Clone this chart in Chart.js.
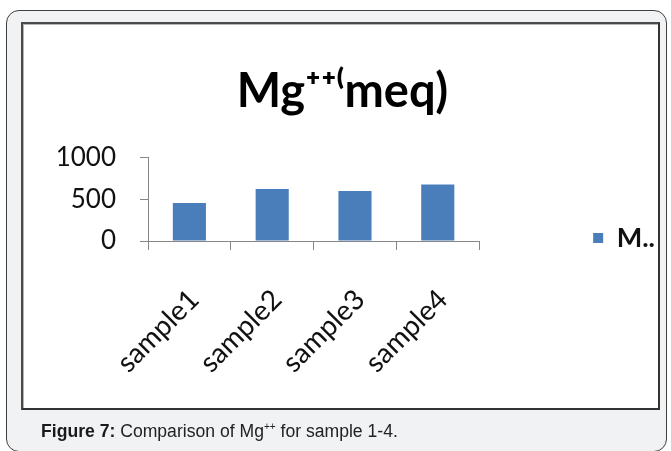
<html>
<head>
    <meta charset="utf-8">
    <style>
        body {
            margin: 0;
            background: #ffffff;
            width: 671px;
            height: 451px;
            overflow: hidden;
            position: relative;
        }

        .outer-frame {
            position: absolute;
            left: 6px;
            top: 10px;
            width: 661px;
            height: 442px;
            box-sizing: border-box;
            border: 1px solid #3f3f3f;
            border-radius: 13px;
            background: #f1f2f4;
        }

        .chart-box {
            position: absolute;
            left: 21px;
            top: 22px;
            width: 639px;
            height: 388px;
            box-sizing: border-box;
            background: #ffffff;
            border: 2px solid #4a4a4a;
            border-right-color: #333333;
            border-bottom-color: #333333;
            box-shadow: inset 1px 1px 0 #b5b5b5;
        }

        #mg-chart {
            position: absolute;
            left: 0;
            top: 0;
        }

        .caption {
            position: absolute;
            left: 41px;
            top: 421px;
            font-family: "Liberation Sans", Arial, sans-serif;
            font-size: 17.6px;
            line-height: 20px;
            color: #222222;
            white-space: nowrap;
        }

        .caption b {
            color: #1a1a1a;
        }

        .caption sup {
            font-size: 10px;
            vertical-align: 7px;
            line-height: 0;
        }
    </style>
</head>
<body>
    <div class="outer-frame"></div>
    <div class="chart-box"></div>
    <canvas id="mg-chart" width="671" height="451"></canvas>
    <div class="caption"><b>Figure 7:</b> Comparison of Mg<sup>++</sup> for sample 1-4.</div>

    <script src="https://cdn.jsdelivr.net/npm/chart.js"></script>
    <script type="text/javascript">
        // values
        const categories = ['sample1', 'sample2', 'sample3', 'sample4'];
        const mgValues = [456, 623, 599, 675];
        const yTicks = [0, 500, 1000];
        const seriesName = 'M..';
        const chartTitle = 'Mg\u207A\u207A\u207Dmeq)';

        const axisColor = '#868686';
        const textColor = '#111111';

        class MgChartPage {
            constructor() {
                this.initChart();
            }

            initChart() {
                this.chart = new Chart(document.getElementById('mg-chart'), {
                    type: 'bar',
                    data: {
                        labels: categories,
                        datasets: [{
                            label: seriesName,
                            data: mgValues,
                            backgroundColor: '#4a7ebb',
                            borderWidth: 0,
                            barPercentage: 0.5,
                            categoryPercentage: 0.8
                        }]
                    },
                    options: {
                        responsive: false,
                        animation: false,
                        devicePixelRatio: 1,
                        layout: {
                            // top/bottom chosen so the legend sits level with the axis
                            padding: { left: 20, top: 60, right: 6, bottom: 35 }
                        },
                        scales: {
                            x: {
                                grid: {
                                    offset: true,
                                    drawOnChartArea: false,
                                    color: axisColor,
                                    tickLength: 9
                                },
                                border: { color: axisColor, width: 1 },
                                ticks: {
                                    minRotation: 45,
                                    maxRotation: 45,
                                    padding: 33,
                                    labelOffset: 5,
                                    color: textColor,
                                    font: { family: 'Lato', size: 28 }
                                },
                                afterFit: (scale) => { scale.height = 175; }
                            },
                            y: {
                                min: yTicks[0],
                                max: yTicks[yTicks.length - 1],
                                afterBuildTicks: (scale) => {
                                    scale.ticks = yTicks.map(v => ({ value: v }));
                                },
                                grid: {
                                    drawOnChartArea: false,
                                    color: axisColor,
                                    tickLength: 8
                                },
                                border: { color: axisColor, width: 1 },
                                ticks: {
                                    padding: 24,
                                    color: textColor,
                                    font: { family: 'Lato', size: 26 },
                                    callback: (v) => String(v)
                                },
                                afterFit: (scale) => { scale.width = 128; }
                            }
                        },
                        plugins: {
                            title: {
                                display: true,
                                text: chartTitle,
                                color: '#000000',
                                font: { family: 'Lato', size: 47, weight: 'bold', lineHeight: 1.2 },
                                padding: { top: 4, bottom: 37 }
                            },
                            tooltip: { enabled: false },
                            legend: {
                                display: true,
                                position: 'right',
                                align: 'center',
                                maxWidth: 300,
                                labels: {
                                    boxWidth: 10,
                                    boxHeight: 10,
                                    padding: 114,
                                    color: textColor,
                                    font: { family: 'Lato', size: 27, weight: 'bold' }
                                }
                            }
                        }
                    }
                });
            }
        }

        let page = new MgChartPage();
    </script>
</body>
</html>
